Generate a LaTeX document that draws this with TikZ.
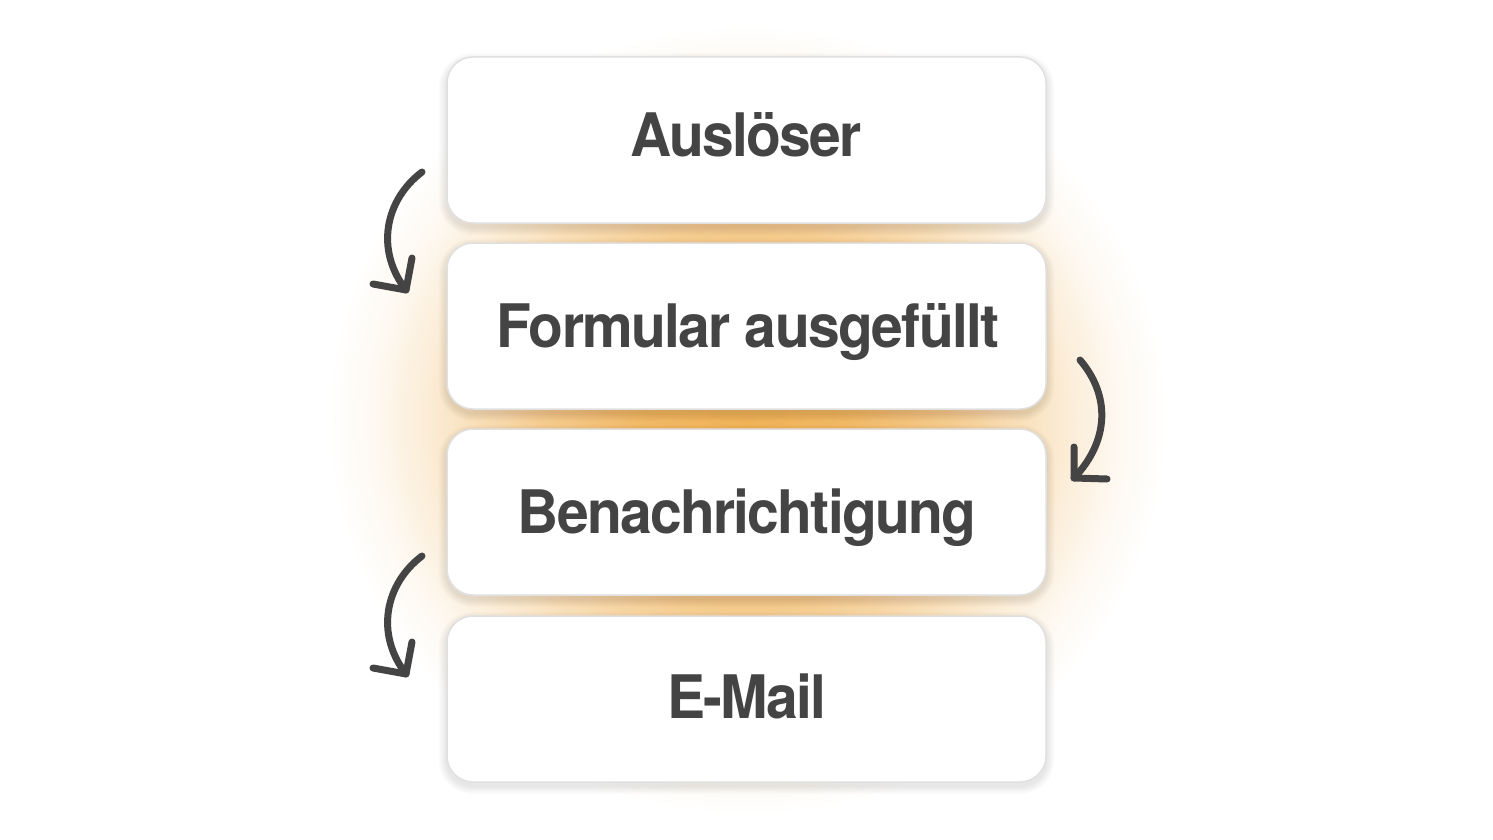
\documentclass[tikz,border=0pt]{standalone}
\usepackage{fontspec}
\setmainfont{TeX Gyre Heros}
\newfontfamily\boxfont[LetterSpace=-3.0]{TeX Gyre Heros}
\definecolor{txt}{HTML}{444444}
\definecolor{glowc}{HTML}{EFB257}
\definecolor{edge}{HTML}{E0E0E0}
\pgfdeclareradialshading{glow}{\pgfpoint{0bp}{0bp}}{%
  color(0bp)=(glowc);
  color(6bp)=(glowc!92!white);
  color(12bp)=(glowc!68!white);
  color(18bp)=(glowc!30!white);
  color(22bp)=(glowc!9!white);
  color(25bp)=(white);
  color(100bp)=(white)}
\tikzset{
  stepbox/.style={draw=edge, line width=1.5pt, fill=white, rounded corners=26pt,
    minimum width=599pt, minimum height=166pt, inner sep=0pt},
  steptext/.style={anchor=base, inner sep=0pt, xscale=0.95,
    font=\boxfont\bfseries\fontsize{60}{64}\selectfont, text=txt},
  flow/.style={draw=txt, line width=7pt, line cap=round, line join=round},
}
\begin{document}
\begin{tikzpicture}[x=1pt,y=-1pt]
\useasboundingbox (0,0) rectangle (1493,840);
\fill[white] (0,0) rectangle (1493,840);
\shade[shading=glow] (747,420) ellipse [x radius=420, y radius=395];
% soft shadows
\foreach \cy in {140,326,512,699}{
  \foreach \k in {1,...,8}{
    \fill[black, opacity=0.010, rounded corners=26pt+\k pt]
      (446.5-\k,\cy-83-\k+4) rectangle (1046.5+\k,\cy+83+\k+4);
  }
}
\node[stepbox] (a) at (746.5,140) {};
\node[stepbox] (b) at (746.5,326) {};
\node[stepbox] (c) at (746.5,512) {};
\node[stepbox] (d) at (746.5,699) {};
\node[steptext] (ta) at (746,156) {Auslöser};
\node[steptext] (tb) at (748,347) {Formular ausgefüllt};
\node[steptext] (tc) at (747,533) {Benachrichtigung};
\node[steptext] (td) at (747,718) {E-Mail};
% arrows
\coordinate (s1) at (422,172); \coordinate (t1) at (406,290);
\draw[flow] (s1) .. controls (385,200) and (375,250) .. (t1);
\draw[flow] (373,284) -- (t1) -- (412,258);
\coordinate (s2) at (1080,360); \coordinate (t2) at (1074,478);
\draw[flow] (s2) .. controls (1110,395) and (1110,440) .. (t2);
\draw[flow] (1074,447) -- (t2) -- (1107,479);
\coordinate (s3) at (422,556); \coordinate (t3) at (406,674);
\draw[flow] (s3) .. controls (385,584) and (375,634) .. (t3);
\draw[flow] (373,668) -- (t3) -- (412,642);
\end{tikzpicture}
\end{document}
